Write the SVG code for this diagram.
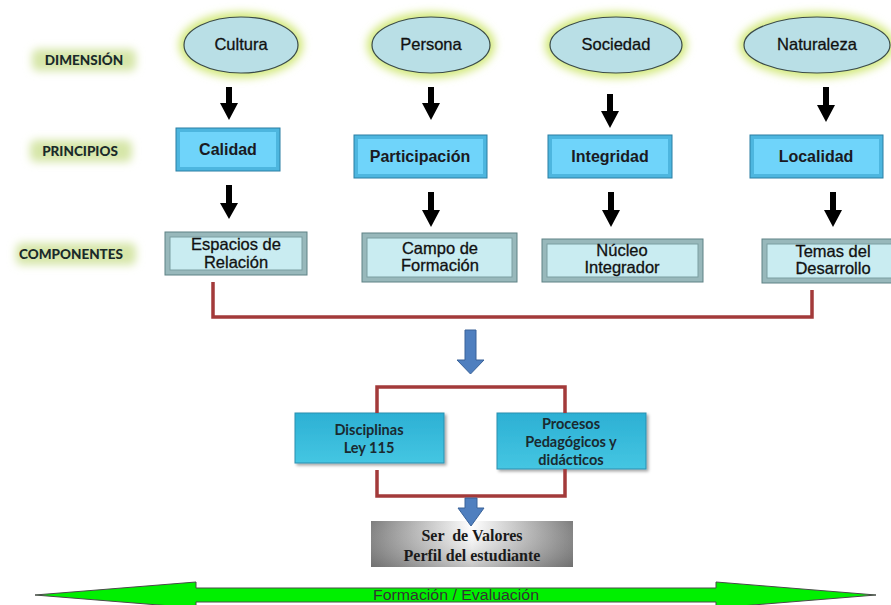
<svg xmlns="http://www.w3.org/2000/svg" width="891" height="605" viewBox="0 0 891 605">
<defs>
<style>
.lbl{font-family:Lato,"Open Sans","Liberation Sans",sans-serif;font-weight:900;font-size:13.5px;fill:#1a2a2a;text-anchor:middle}
.ell{fill:#b9dfe6;stroke:#3a4a4a;stroke-width:1.2}
.glow{fill:#d2e87a;filter:url(#blur)}
.lglow{fill:#d6e6a8;filter:url(#blur2)}
.t{font-family:"Liberation Sans",Arial,sans-serif;font-size:16.5px;fill:#111;stroke:#111;stroke-width:0.3;text-anchor:middle}
.tb{font-family:"Liberation Sans",Arial,sans-serif;font-size:16px;font-weight:bold;fill:#1a1a22;text-anchor:middle}
.pout{fill:#4db6df;stroke:#2b7fa3;stroke-width:1}
.pin{fill:#6fd4fa}
.cout{fill:#98b8bb;stroke:#5f8285;stroke-width:1}
.cin{fill:#c9ecf1;stroke:#7a9ea1;stroke-width:1}
.blk{fill:#000}
.red{fill:none;stroke:#a33a3a;stroke-width:3.5}
.blue{fill:#4f7fbf;stroke:#3a6399;stroke-width:1}
.mid{fill:url(#teal);stroke:#2b8fb0;stroke-width:1;filter:url(#shadow)}
.mt{font-family:Lato,"Open Sans","Liberation Sans",sans-serif;font-weight:bold;font-size:14.5px;fill:#1a2a30;text-anchor:middle}
.st{font-family:"Liberation Serif","DejaVu Serif",serif;font-weight:bold;font-size:16px;fill:#1a1a1a;text-anchor:middle}
</style>
<filter id="blur" x="-30%" y="-30%" width="160%" height="160%"><feGaussianBlur stdDeviation="4"/></filter>
<filter id="blur2" x="-30%" y="-60%" width="160%" height="220%"><feGaussianBlur stdDeviation="4"/></filter>
<filter id="shadow" x="-10%" y="-10%" width="125%" height="130%"><feDropShadow dx="2" dy="2" stdDeviation="1.5" flood-color="#000" flood-opacity="0.35"/></filter>
<linearGradient id="teal" x1="0" y1="0" x2="0" y2="1"><stop offset="0" stop-color="#2cb0d4"/><stop offset="1" stop-color="#45c6e2"/></linearGradient>
<linearGradient id="gray" x1="0" y1="0" x2="1" y2="0"><stop offset="0" stop-color="#7d7d7d"/><stop offset="0.5" stop-color="#ffffff"/><stop offset="1" stop-color="#7d7d7d"/></linearGradient>
<linearGradient id="grayv" x1="0" y1="0" x2="0" y2="1"><stop offset="0" stop-color="#fff" stop-opacity="0"/><stop offset="1" stop-color="#555" stop-opacity="0.35"/></linearGradient>
</defs>

<g id="label-dimension"><rect class="lglow" x="32" y="49" width="104" height="22" rx="6"/><text class="lbl" x="84" y="65">DIMENSIÓN</text></g>
<g id="label-principios"><rect class="lglow" x="30" y="140" width="102" height="22" rx="6"/><text class="lbl" x="80" y="156">PRINCIPIOS</text></g>
<g id="label-componentes"><rect class="lglow" x="16" y="243" width="120" height="22" rx="6"/><text class="lbl" x="71" y="259">COMPONENTES</text></g>

<g id="cultura"><ellipse class="glow" cx="241" cy="45" rx="62" ry="33"/><ellipse class="ell" cx="241" cy="45" rx="57" ry="28"/><text class="t" x="241" y="50">Cultura</text></g>
<g id="persona"><ellipse class="glow" cx="431" cy="45" rx="64" ry="33"/><ellipse class="ell" cx="431" cy="45" rx="59" ry="28"/><text class="t" x="431" y="50">Persona</text></g>
<g id="sociedad"><ellipse class="glow" cx="616" cy="45" rx="71" ry="33"/><ellipse class="ell" cx="616" cy="45" rx="66" ry="28"/><text class="t" x="616" y="50">Sociedad</text></g>
<g id="naturaleza"><ellipse class="glow" cx="817" cy="45" rx="78" ry="33"/><ellipse class="ell" cx="817" cy="45" rx="73" ry="28"/><text class="t" x="817" y="50">Naturaleza</text></g>

<g id="calidad"><rect class="pout" x="176" y="128" width="104" height="43"/><rect class="pin" x="180" y="132" width="96" height="35"/><text class="tb" x="228" y="155">Calidad</text></g>
<g id="participacion"><rect class="pout" x="354" y="135" width="133" height="43"/><rect class="pin" x="358" y="139" width="125" height="35"/><text class="tb" x="420" y="162">Participación</text></g>
<g id="integridad"><rect class="pout" x="548" y="135" width="124" height="43"/><rect class="pin" x="552" y="139" width="116" height="35"/><text class="tb" x="610" y="162">Integridad</text></g>
<g id="localidad"><rect class="pout" x="750" y="135" width="133" height="43"/><rect class="pin" x="754" y="139" width="125" height="35"/><text class="tb" x="816" y="162">Localidad</text></g>

<g id="espacios"><rect class="cout" x="165" y="232" width="142" height="43"/><rect class="cin" x="170" y="237" width="132" height="33"/><text class="t" x="236" y="250">Espacios de</text><text class="t" x="236" y="268">Relación</text></g>
<g id="campo"><rect class="cout" x="362" y="233" width="155" height="49"/><rect class="cin" x="367" y="238" width="145" height="39"/><text class="t" x="440" y="254">Campo de</text><text class="t" x="440" y="271">Formación</text></g>
<g id="nucleo"><rect class="cout" x="542" y="239" width="161" height="43"/><rect class="cin" x="547" y="244" width="151" height="33"/><text class="t" x="622" y="256">Núcleo</text><text class="t" x="622" y="273">Integrador</text></g>
<g id="temas"><rect class="cout" x="762" y="239" width="134" height="44"/><rect class="cin" x="767" y="244" width="130" height="34"/><text class="t" x="833" y="257">Temas del</text><text class="t" x="833" y="274">Desarrollo</text></g>

<g id="disciplinas"><rect class="mid" x="295" y="413" width="149" height="50"/><text class="mt" x="369" y="435">Disciplinas</text><text class="mt" x="369" y="453">Ley 115</text></g>
<g id="procesos"><rect class="mid" x="497" y="413" width="149" height="56"/><text class="mt" x="571" y="429">Procesos</text><text class="mt" x="571" y="447">Pedagógicos y</text><text class="mt" x="571" y="465">didácticos</text></g>

<g id="ser-valores"><rect x="371" y="521" width="202" height="46" fill="url(#gray)"/><rect x="371" y="521" width="202" height="46" fill="url(#grayv)"/><text class="st" x="472" y="541" xml:space="preserve">Ser  de Valores</text><text class="st" x="472" y="561">Perfil del estudiante</text></g>

<g id="formacion-evaluacion"><polygon points="35,595 196,582 196,588 716,588 716,582 876,595 716,608 716,602 196,602 196,608" fill="#00f000" stroke="#4a4a4a" stroke-width="1"/><text x="456" y="600" font-family="'Liberation Sans',Arial,sans-serif" font-size="14" fill="#333" text-anchor="middle" textLength="166" lengthAdjust="spacingAndGlyphs">Formación / Evaluación</text></g>

<g id="connectors">
<polygon class="blk" points="226,87 232,87 232,103 238,103 229,120 220,103 226,103"/>
<polygon class="blk" points="428,87 434,87 434,103 440,103 431,120 422,103 428,103"/>
<polygon class="blk" points="607,94 613,94 613,111 619,111 610,128 601,111 607,111"/>
<polygon class="blk" points="823,87 829,87 829,105 835,105 826,122 817,105 823,105"/>
<polygon class="blk" points="226,185 232,185 232,203 238,203 229,219 220,203 226,203"/>
<polygon class="blk" points="428,192 434,192 434,210 440,210 431,227 422,210 428,210"/>
<polygon class="blk" points="608,192 614,192 614,210 620,210 611,227 602,210 608,210"/>
<polygon class="blk" points="830,192 836,192 836,210 842,210 833,227 824,210 830,210"/>
<polyline class="red" points="213,282 213,317 812,317 812,290"/>
<polygon class="blue" points="465,330 476,330 476,360 484,360 470.5,374 457,360 465,360"/>
<polyline class="red" points="377,413 377,387 565,387 565,413"/>
<polyline class="red" points="377,470 377,496 565,496 565,469"/>
<polygon class="blue" points="465,498 477,498 477,508 484,508 471,526 458,508 465,508"/>
</g>
</svg>
